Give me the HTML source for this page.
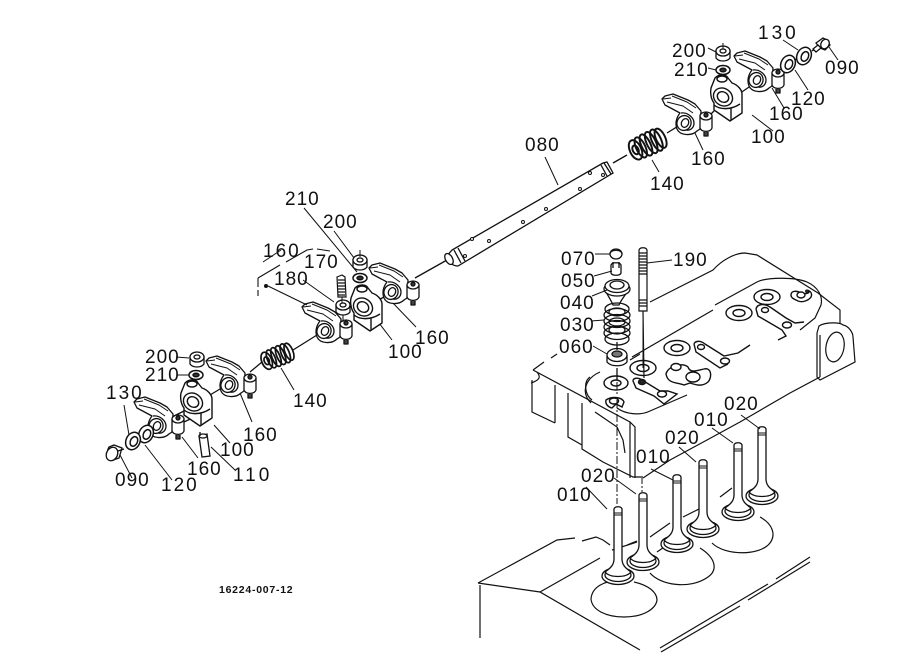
<!DOCTYPE html>
<html><head><meta charset="utf-8">
<style>
html,body{margin:0;padding:0;background:#fff}
svg{display:block}
text{font-family:"Liberation Sans",sans-serif;font-size:19px;fill:#111;letter-spacing:1px}
</style></head><body>
<svg width="919" height="668" viewBox="0 0 919 668" xmlns="http://www.w3.org/2000/svg">
<defs>
<g id="rocker" fill="#fff" stroke="#111" stroke-width="1.3" stroke-linejoin="round">
<path d="M-23,-24 L-20,-27 L-12,-29 L3,-23 L10,-19 L16,-12 L15,6 L12,8 C7,13 -5,13 -8,6 C-10,1 -9,-5 -5,-10 L-20,-18 Z"/>
<path d="M-22,-24 L-14,-25 M-18,-21 L-2,-17 L8,-10 M-13,-27 L2,-21 L11,-15" fill="none" stroke-width="1"/>
<path d="M-4,-10 C3,-11 9,-5 9,0 C9,5 5,8 1,7" fill="none"/>
<ellipse cx="-1" cy="0" rx="7" ry="7.5" transform="rotate(25 -1 0)"/>
<ellipse cx="0" cy="0" rx="3.5" ry="4.5" transform="rotate(25 0 0)"/>
<path d="M15,-7 L15,5 C17,10 26,9 27,5 L27,-7 Z"/>
<ellipse cx="21" cy="-7" rx="6" ry="4"/>
<circle cx="21" cy="-8" r="2" fill="#333"/>
<path d="M19,9 L19,13 L23,13 L23,9" fill="#444"/>
</g>
<g id="bracket" fill="#fff" stroke="#111" stroke-width="1.4" stroke-linejoin="round">
<path d="M-16,-10 L-12,-20 C-8,-24 -1,-24 1,-20 L5,-15 C11,-13 15,-8 15,-4 L15,15 L3,23 L-13,12 L-13,5 C-16,1 -17,-5 -16,-10 Z"/>
<ellipse cx="-5" cy="-19" rx="5" ry="3"/>
<ellipse cx="-4" cy="-1" rx="10" ry="8.500" transform="rotate(35 -4 -1)"/>
<ellipse cx="-4" cy="-1" rx="6" ry="5" transform="rotate(35 -4 -1)"/>
<path d="M4,10 L4,22 M-13,7 C-7,12 4,12 13,6" fill="none"/>
</g>
<g id="nut" fill="#fff" stroke="#111" stroke-width="1.3">
<path d="M-7,-3 L-7,4 C-4,8 4,8 7,4 L7,-3 Z"/>
<ellipse cx="0" cy="-3" rx="7" ry="5"/>
<ellipse cx="0" cy="-3" rx="3" ry="2"/>
</g>
<g id="washer" fill="#fff" stroke="#111" stroke-width="1.5">
<ellipse cx="0" cy="0" rx="7" ry="4.500"/>
<ellipse cx="0" cy="0" rx="3" ry="1.800" fill="#333"/>
</g>
<g id="dwasher" fill="#fff" stroke="#111" stroke-width="1.5">
<ellipse cx="0" cy="0" rx="7" ry="9" transform="rotate(25)"/>
<ellipse cx="1" cy="0" rx="3.500" ry="5" transform="rotate(25)"/>
</g>
<g id="spring" fill="none" stroke="#111" stroke-width="1.700">
<ellipse cx="-10" cy="0" rx="5" ry="9" fill="#fff"/>
<ellipse cx="-10" cy="0" rx="2.500" ry="4"/>
<ellipse cx="-5" cy="0" rx="4" ry="9.500"/>
<ellipse cx="0" cy="0" rx="4" ry="10"/>
<ellipse cx="5" cy="0" rx="4" ry="10"/>
<ellipse cx="10" cy="0" rx="4" ry="10"/>
<ellipse cx="14" cy="0" rx="4" ry="9"/>
</g>
<g id="valve" fill="#fff" stroke="#111" stroke-width="1.300">
<ellipse cx="0" cy="1" rx="16" ry="8.500"/>
<ellipse cx="0" cy="0" rx="13" ry="6.500"/>
<path d="M-4,-66 L-4,-16 C-4,-9 -9,-6 -13,-3 C-8,3 8,3 13,-3 C9,-6 4,-9 4,-16 L4,-66 C3,-69 -3,-69 -4,-66 Z"/>
<path d="M-4,-62 H4 M-4,-60 H4" stroke-width="1"/>
</g>
</defs>

<!-- lower block -->
<g fill="none" stroke="#111" stroke-width="1.200">
<path d="M478,583 L557,540 L575,538 M582,541 L596,537 L603,540 L610,545"/>
<path d="M478,583 L540,592 L640,650"/>
<path d="M480,585 L480,638"/>
<path d="M540,592 L600,558 M612,550 L637,542 M650,537 L670,523 M683,517 L703,507 M720,497 L732,488 M627,545 L637,541 M657,552 L670,543"/>
<path d="M660,648 L768,584 M776,579 L810,557 M661,652 L740,606 M748,600 L810,562"/>
<path d="M591,599 C592,586 606,581 616,581 M634,582 C648,585 657,592 657,600 C656,608 645,617 624,617 C606,617 592,610 591,599"/>
<path d="M650,573 C660,585 690,590 708,577 C718,570 716,558 700,548"/>
<path d="M712,543 C725,556 760,556 770,543 C776,535 773,524 760,517"/>
</g>

<!-- cylinder head -->
<g fill="none" stroke="#111" stroke-width="1.200">
<path d="M533,370 L544,362 M551,358 L557,354"/>
<path d="M632,357 L713,310"/>
<path d="M650,302 L713,270 C722,260 735,253 745,253 L757,255 L818,293 L840,310 L840,323"/>
<path d="M533,370 L630,422 L635,427 L635,478"/>
<path d="M630,422 L630,478 M532,380 L532,412 L555,423 M537,372 C541,377 540,380 531,383"/>
<path d="M555,423 L555,385 M568,393 L568,437 L582,445 M582,403 L582,449 L603,462 L633,477 L643,477 M595,412 L617,427 L623,440 L625,453"/>
<path d="M643,478 L670,460 L707,440 L740,422 L790,393 L820,377"/>
<path d="M817,333 L819,326 C825,322 840,322 843,325 C849,326 853,333 853,337 L855,362 L820,380 L817,377 L817,333"/>
<ellipse cx="835" cy="347" rx="9" ry="15" transform="rotate(10 835 347)"/>
<path d="M820,377 L820,335"/>
<!-- inner wall -->
<path d="M715,305 L757,282 C767,277 795,277 807,282 C818,287 823,296 821,305 L815,318 L800,330"/>
<path d="M617,408 C625,414 640,416 650,411 L687,395 M630,360 L640,354"/>
<path d="M600,372 C586,378 580,392 591,403"/>
<path d="M590,377 C583,382 585,395 592,400"/>
</g>
<g fill="#fff" stroke="#111" stroke-width="1.400">
<ellipse cx="643" cy="368" rx="13" ry="7.500"/><ellipse cx="643" cy="368" rx="6" ry="3.500"/>
<ellipse cx="616" cy="383" rx="12" ry="7"/><ellipse cx="616" cy="383" rx="5" ry="3"/>
<ellipse cx="677" cy="348" rx="13" ry="7.500"/><ellipse cx="677" cy="348" rx="6" ry="3.500"/>
<ellipse cx="767" cy="297" rx="13" ry="7.500"/><ellipse cx="767" cy="297" rx="6" ry="3.500"/>
<ellipse cx="739" cy="313" rx="13" ry="7.500"/><ellipse cx="739" cy="313" rx="6" ry="3.500"/>
<path d="M791,295 C791,291 796,290 801,293 C808,295 812,291 806,292 C804,288 814,291 811,297 C809,300 803,303 798,301 C794,299 791,298 791,295 Z"/>
<ellipse cx="801" cy="295" rx="4" ry="3"/>
<path d="M633,381 C633,378 638,377 642,380 L660,391 L668,391 L677,394 L664,404 L654,396 L636,388 Z"/>
<ellipse cx="642" cy="382" rx="3.500" ry="2.500" fill="#333"/>
<ellipse cx="662" cy="394" rx="4.500" ry="3"/>
<path d="M694,344 C695,341 700,340 705,344 L724,356 L738,353 L750,345 M694,344 L696,352 L720,368 L728,364"/>
<ellipse cx="701" cy="347" rx="3.500" ry="2.500"/>
<ellipse cx="725" cy="361" rx="4.500" ry="3"/>
<path d="M756,309 C757,304 764,303 770,307 L786,318 L795,323 L804,322 M756,309 L758,316 L782,330 L786,336 L778,340"/>
<ellipse cx="765" cy="310" rx="3.500" ry="2.500"/>
<ellipse cx="787" cy="325" rx="4.500" ry="3"/>
<path d="M666,374 C668,366 682,362 688,367 C690,373 695,371 704,369 C712,367 712,378 708,382 C702,387 696,385 690,383 L684,385 C676,382 668,384 666,374 Z"/>
<ellipse cx="676" cy="367" rx="5" ry="3.500"/>
<ellipse cx="693" cy="377" rx="7" ry="5"/>
<path d="M606,400 C612,396 622,397 624,402 L622,407 L616,404 L612,408 C608,407 605,404 606,400 Z"/>
<ellipse cx="614" cy="401" rx="4.500" ry="3"/>
</g>

<!-- axis dash lines -->
<g fill="none" stroke="#111" stroke-width="1">
<path d="M643,277 V368 M617,370 V380" />
<path d="M617,382 V395 M617,400 L617,504" stroke-dasharray="8 2 2 2"/>
<path d="M642,478 V492" stroke-dasharray="6 2 2 2"/>
</g>

<!-- valves -->
<use href="#valve" x="618" y="575"/>
<use href="#valve" x="643" y="561"/>
<use href="#valve" x="677" y="543"/>
<use href="#valve" x="703" y="528"/>
<use href="#valve" x="738" y="511"/>
<use href="#valve" x="762" y="495"/>

<!-- stud 190 -->
<g fill="#fff" stroke="#111" stroke-width="1.200">
<path d="M639,250 C640,247 646,247 647,250 L647,311 L639,311 Z"/>
<path d="M639,253 H647 M639,256 H647 M639,259 H647 M639,262 H647 M639,265 H647 M639,268 H647 M639,271 H647 M639,274 H647 M639,300 H647 M639,303 H647 M639,306 H647"/>
<path d="M643,311 L644,378" fill="none"/>
</g>
<ellipse cx="642" cy="382" rx="2.500" ry="2" fill="#222"/>

<!-- valve spring stack -->
<g fill="#fff" stroke="#111" stroke-width="1.300">
<ellipse cx="616" cy="254" rx="6" ry="5"/>
<path d="M610,254 C610,249 622,249 622,254"/>
<path d="M611,265 V273 C612,276 620,276 621,273 V265 C620,262 612,262 611,265 Z"/>
<path d="M613,262 V268 M619,262 V268"/>
<path d="M605,290 C608,296 611,300 613,305 L619,305 C621,300 625,296 628,290"/>
<ellipse cx="617" cy="289" rx="13" ry="7"/>
<ellipse cx="617" cy="286" rx="12" ry="6.500"/>
<ellipse cx="617" cy="285" rx="7" ry="4"/>
<ellipse cx="617" cy="339" rx="12" ry="6" fill="none"/>
<ellipse cx="617" cy="333" rx="13" ry="6.500" fill="none"/>
<ellipse cx="617" cy="327" rx="13" ry="6.500" fill="none"/>
<ellipse cx="617" cy="321" rx="13" ry="6.500" fill="none"/>
<ellipse cx="617" cy="315" rx="13" ry="6.500" fill="none"/>
<ellipse cx="617" cy="309" rx="12" ry="6" fill="none"/>
<ellipse cx="617" cy="330" rx="8" ry="4" fill="none"/>
<ellipse cx="617" cy="322" rx="8" ry="4" fill="none"/>
<ellipse cx="617" cy="312" rx="8" ry="4" fill="none"/>
<path d="M607,356 L607,362 C611,367 623,367 627,362 L627,356 Z"/>
<ellipse cx="617" cy="355" rx="10" ry="6.500"/>
<ellipse cx="617" cy="354" rx="5" ry="3" fill="#777"/>
<path d="M617,342 V350 M617,368 V380" fill="none"/>
</g>

<!-- shaft and axis lines -->
<g fill="none" stroke="#111" stroke-width="1.300">
<path d="M415,278 L447,260 M613,163 L627,155"/>
<path d="M366,308 L395,290 M293,350 L317,335 M262,362 L250,372"/>
<path d="M210,395 L225,386 M166,420 L186,410 M184,422 L205,412"/>
<path d="M667,133 L680,125 M705,120 L714,111 M733,98 L752,85"/>
<path d="M794,60 L800,58 M812,51 L818,47"/>
</g>
<g fill="#fff" stroke="#111" stroke-width="1.300">
<path d="M446,257 L452,250 L603,163 L607,162 L613,173 L458,266 C453,266 447,262 446,257 Z"/>
<ellipse cx="449" cy="259" rx="3.500" ry="6" transform="rotate(-30 449 259)"/>
<path d="M454,250 L461,263 M458,248 L465,261 M601,165 L607,176 M604,163 L611,174" fill="none"/>
</g>
<g fill="#fff" stroke="#111" stroke-width="1">
<circle cx="472" cy="239" r="1.500"/><circle cx="489" cy="241" r="1.500"/><circle cx="465" cy="256" r="1.500"/>
<circle cx="523" cy="222" r="1.500"/><circle cx="546" cy="209" r="1.500"/><circle cx="580" cy="189" r="1.500"/><circle cx="590" cy="173" r="1.500"/><circle cx="603" cy="175" r="1.500"/>
</g>

<!-- leader lines -->
<g fill="none" stroke="#111" stroke-width="1">
<path d="M304,208 L357,272 M334,231 L357,262 M263,262 L281,250 M343,275 L339,282 M303,280 L334,302"/>
<path d="M391,301 L416,327 M379,323 L392,340 M176,357 L189,358 M177,375 L190,375"/>
<path d="M281,368 L294,390 M240,393 L252,422 M214,425 L230,443 M124,405 L129,435 M145,445 L172,480 M120,455 L132,478 M182,437 L198,458 M211,447 L235,470"/>
<path d="M708,48 L716,52 M708,68 L716,70 M783,40 L798,50 M795,70 L808,90 M829,47 L838,60 M772,88 L784,108"/>
<path d="M752,115 L773,131 M694,131 L703,150 M652,160 L659,172 M545,157 L558,185"/>
<path d="M595,254 L610,254 M594,276 L612,271 M592,296 L607,290 M591,321 L604,320 M593,346 L607,354"/>
<path d="M647,263 L672,260"/>
<path d="M586,487 L607,509 M614,478 L636,494 M651,469 L673,480 M679,447 L696,462 M712,428 L733,443 M741,415 L760,429"/>
</g>

<!-- brackets and rockers -->
<use href="#rocker" x="392" y="292"/>
<use href="#bracket" x="367" y="308"/>
<use href="#rocker" x="325" y="331"/>
<use href="#rocker" x="229" y="385"/>
<use href="#bracket" x="197" y="403"/>
<use href="#rocker" x="157" y="426"/>
<use href="#rocker" x="757" y="80"/>
<use href="#bracket" x="727" y="98"/>
<use href="#rocker" x="685" y="123"/>

<!-- springs -->
<use href="#spring" transform="translate(276,357) rotate(-22)"/>
<use href="#spring" transform="translate(646,145) rotate(-25) scale(1.15)"/>

<!-- small parts -->
<use href="#nut" x="360" y="263"/>
<use href="#washer" x="360" y="278"/>
<use href="#nut" x="197" y="360"/>
<use href="#washer" x="196" y="375"/>
<use href="#nut" x="723" y="54"/>
<use href="#washer" x="723" y="70"/>
<use href="#nut" x="343" y="308"/>
<g fill="#fff" stroke="#111" stroke-width="1.200">
<path d="M337,277 L342,275 L345,277 L346,297 L338,297 Z"/>
<path d="M338,280 H345 M338,283 H345 M338,286 H345 M338,289 H345 M338,292 H345 M338,295 H345"/>
</g>
<path d="M360,250 V257 M342,297 V303 M343,315 V322 M723,43 V49" stroke="#111" fill="none"/>

<use href="#dwasher" x="146" y="434"/>
<use href="#dwasher" x="133" y="441"/>
<use href="#dwasher" x="788" y="64"/>
<use href="#dwasher" x="804" y="56"/>
<g fill="#fff" stroke="#111" stroke-width="1.300">
<path d="M122,448 L114,445 L109,447 C106,452 108,458 113,460 L119,458 Z"/>
<ellipse cx="112" cy="454" rx="5.500" ry="7" transform="rotate(25 112 454)"/>
<path d="M118,451 L124,449"/>
<path d="M816,43 L823,38 L827,40 L830,45 L825,50 L820,48 Z"/>
<ellipse cx="825" cy="44" rx="4" ry="5" transform="rotate(30 825 44)"/>
<path d="M813,49 L818,45 L821,48 L816,52 Z"/>
<path d="M199,436 L207,434 L210,456 L202,457 Z"/>
<ellipse cx="203" cy="436" rx="4" ry="2"/>
<path d="M200,432 V436" fill="none"/>
</g>

<!-- dashed group line for 160 -->
<g fill="none" stroke="#111" stroke-width="1.100">
<path d="M258,278 L280,265 M286,262 L307,250 L313,249 M317,249 L330,251"/>
<path d="M258,278 V287 M258,290 V296"/>
<path d="M268,286 L307,305"/>
</g>
<circle cx="266" cy="286" r="2" fill="#111"/>

<!-- labels -->
<text x="758" y="39" style="letter-spacing:3px">130</text>
<text x="672" y="57">200</text>
<text x="674" y="76">210</text>
<text x="825" y="74">090</text>
<text x="791" y="105">120</text>
<text x="769" y="120">160</text>
<text x="751" y="143">100</text>
<text x="691" y="165">160</text>
<text x="525" y="151">080</text>
<text x="650" y="190">140</text>
<text x="285" y="205">210</text>
<text x="323" y="228">200</text>
<text x="263" y="257" style="letter-spacing:2px">160</text>
<text x="304" y="268">170</text>
<text x="274" y="285">180</text>
<text x="561" y="265">070</text>
<text x="561" y="287">050</text>
<text x="560" y="309">040</text>
<text x="560" y="331">030</text>
<text x="559" y="353">060</text>
<text x="673" y="266">190</text>
<text x="388" y="358">100</text>
<text x="415" y="344">160</text>
<text x="145" y="363">200</text>
<text x="145" y="381">210</text>
<text x="293" y="407">140</text>
<text x="106" y="399" style="letter-spacing:2px">130</text>
<text x="243" y="441">160</text>
<text x="220" y="456">100</text>
<text x="187" y="475">160</text>
<text x="233" y="481" style="letter-spacing:3px">110</text>
<text x="161" y="491" style="letter-spacing:2px">120</text>
<text x="115" y="486">090</text>
<text x="636" y="463">010</text>
<text x="665" y="444">020</text>
<text x="694" y="426">010</text>
<text x="724" y="410">020</text>
<text x="581" y="482">020</text>
<text x="557" y="501">010</text>
<text x="219" y="593" style="font-size:10.500px;font-weight:bold;letter-spacing:0.750px">16224-007-12</text>
</svg>
</body></html>
